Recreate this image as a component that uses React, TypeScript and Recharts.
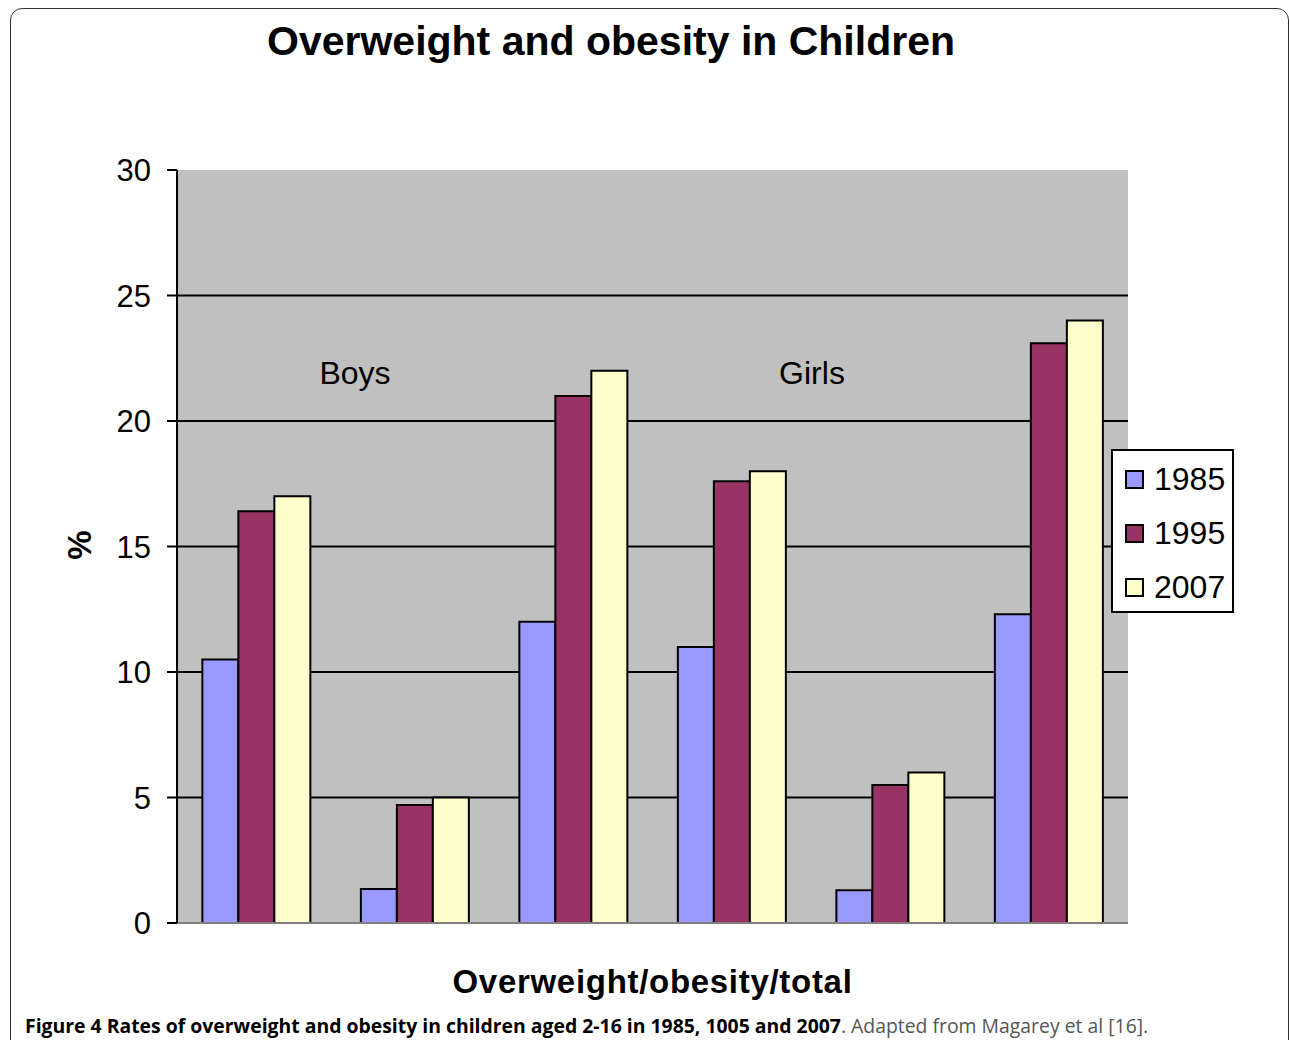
import { BarChart, Bar, XAxis, YAxis, CartesianGrid, Legend, Label } from 'recharts'

const categories = ['Boys overweight', 'Boys obesity', 'Boys total', 'Girls overweight', 'Girls obesity', 'Girls total']
const y1985 = [10.5, 1.35, 12, 11, 1.3, 12.3]
const y1995 = [16.4, 4.7, 21, 17.6, 5.5, 23.1]
const y2007 = [17, 5, 22, 18, 6, 24]
const yTicks = [0, 5, 10, 15, 20, 25, 30]
const gridValues = [5, 10, 15, 20, 25]

const series = [
  { key: '1985', color: '#9999ff' },
  { key: '1995', color: '#993366' },
  { key: '2007', color: '#ffffcc' },
]

const data = categories.map((c, i) => ({
  name: c,
  '1985': y1985[i],
  '1995': y1995[i],
  '2007': y2007[i],
}))

const FONT = '"Liberation Sans", Arial, sans-serif'

function LegendBox() {
  return (
    <div style={{
      position: 'relative', background: '#fff', border: '2px solid #000', width: 119, height: 160,
      boxSizing: 'content-box', fontFamily: FONT, fontSize: 32, color: '#000',
    }}>
      {series.map((s, i) => (
        <div key={s.key} style={{ position: 'absolute', left: 12, top: 10 + i * 54, display: 'flex', alignItems: 'center' }}>
          <span style={{ width: 15, height: 15, background: s.color, border: '2px solid #000', marginRight: 10 }} />
          <span>{s.key}</span>
        </div>
      ))}
    </div>
  )
}

export default function App() {
  return (
    <div style={{ position: 'absolute', left: 0, top: 0, width: 1290, height: 1040, overflow: 'hidden', background: '#fff', fontFamily: FONT }}>
      <div style={{
        position: 'absolute', left: 10, top: 8, width: 1277, height: 1100,
        border: '1.5px solid #333', borderRadius: 12,
      }} />
      <div style={{ position: 'absolute', left: 0, width: 1222, top: 18, textAlign: 'center', fontSize: 41, fontWeight: 'bold' }}>
        Overweight and obesity in Children
      </div>
      <BarChart
        width={1290}
        height={1040}
        data={data}
        margin={{ top: 170, right: 39, bottom: 0, left: 17 }}
        barCategoryGap="16%"
        barGap={0}
        style={{ position: 'absolute', left: 0, top: 0 }}
      >
        <CartesianGrid vertical={false} horizontalValues={gridValues} fill="#c0c0c0" stroke="#000" strokeWidth={2} fillOpacity={1} />
        <XAxis dataKey="name" tick={false} tickLine={false} axisLine={{ stroke: '#808080', strokeWidth: 2 }} height={117}>
          <Label value="Overweight/obesity/total" position="insideTop" offset={47}
            style={{ fontSize: 33, fontWeight: 'bold', fill: '#000', fontFamily: FONT, letterSpacing: 0.7 }} />
        </XAxis>
        <XAxis xAxisId="top" orientation="top" dataKey="name" tick={false} tickLine={false} height={0}
          axisLine={{ stroke: '#808080', strokeWidth: 2 }} />
        <YAxis
          domain={[0, 30]}
          ticks={yTicks}
          width={160}
          tickSize={10}
          tickMargin={16}
          interval={0}
          axisLine={{ stroke: '#000', strokeWidth: 2 }}
          tickLine={{ stroke: '#000', strokeWidth: 2 }}
          tick={{ fontSize: 31, fill: '#000', fontFamily: FONT }}
        />
        <YAxis yAxisId="right" orientation="right" width={0} tick={false} tickLine={false}
          axisLine={{ stroke: '#808080', strokeWidth: 2 }} />
        <Legend content={<LegendBox />} layout="vertical" align="right" verticalAlign="middle"
          wrapperStyle={{ left: 1111, top: 449, width: 123 }} />
        {series.map((s) => (
          <Bar key={s.key} dataKey={s.key} fill={s.color} stroke="#000" strokeWidth={2} isAnimationActive={false} />
        ))}
      </BarChart>
      <div style={{ position: 'absolute', left: 80, top: 545, transform: 'translate(-50%,-50%) rotate(-90deg)', fontSize: 33, fontWeight: 'bold' }}>%</div>
      <div style={{ position: 'absolute', left: 355, top: 373, transform: 'translate(-50%,-50%)', fontSize: 32 }}>Boys</div>
      <div style={{ position: 'absolute', left: 812, top: 373, transform: 'translate(-50%,-50%)', fontSize: 32 }}>Girls</div>
      <div style={{ position: 'absolute', left: 25, top: 1012, fontSize: 19.4, fontFamily: '"Open Sans", sans-serif', whiteSpace: 'nowrap' }}>
        <span style={{ fontWeight: 'bold', color: '#000' }}>Figure 4 Rates of overweight and obesity in children aged 2-16 in 1985, 1005 and 2007</span>
        <span style={{ color: '#555' }}>. Adapted from Magarey et al [16].</span>
      </div>
    </div>
  )
}
